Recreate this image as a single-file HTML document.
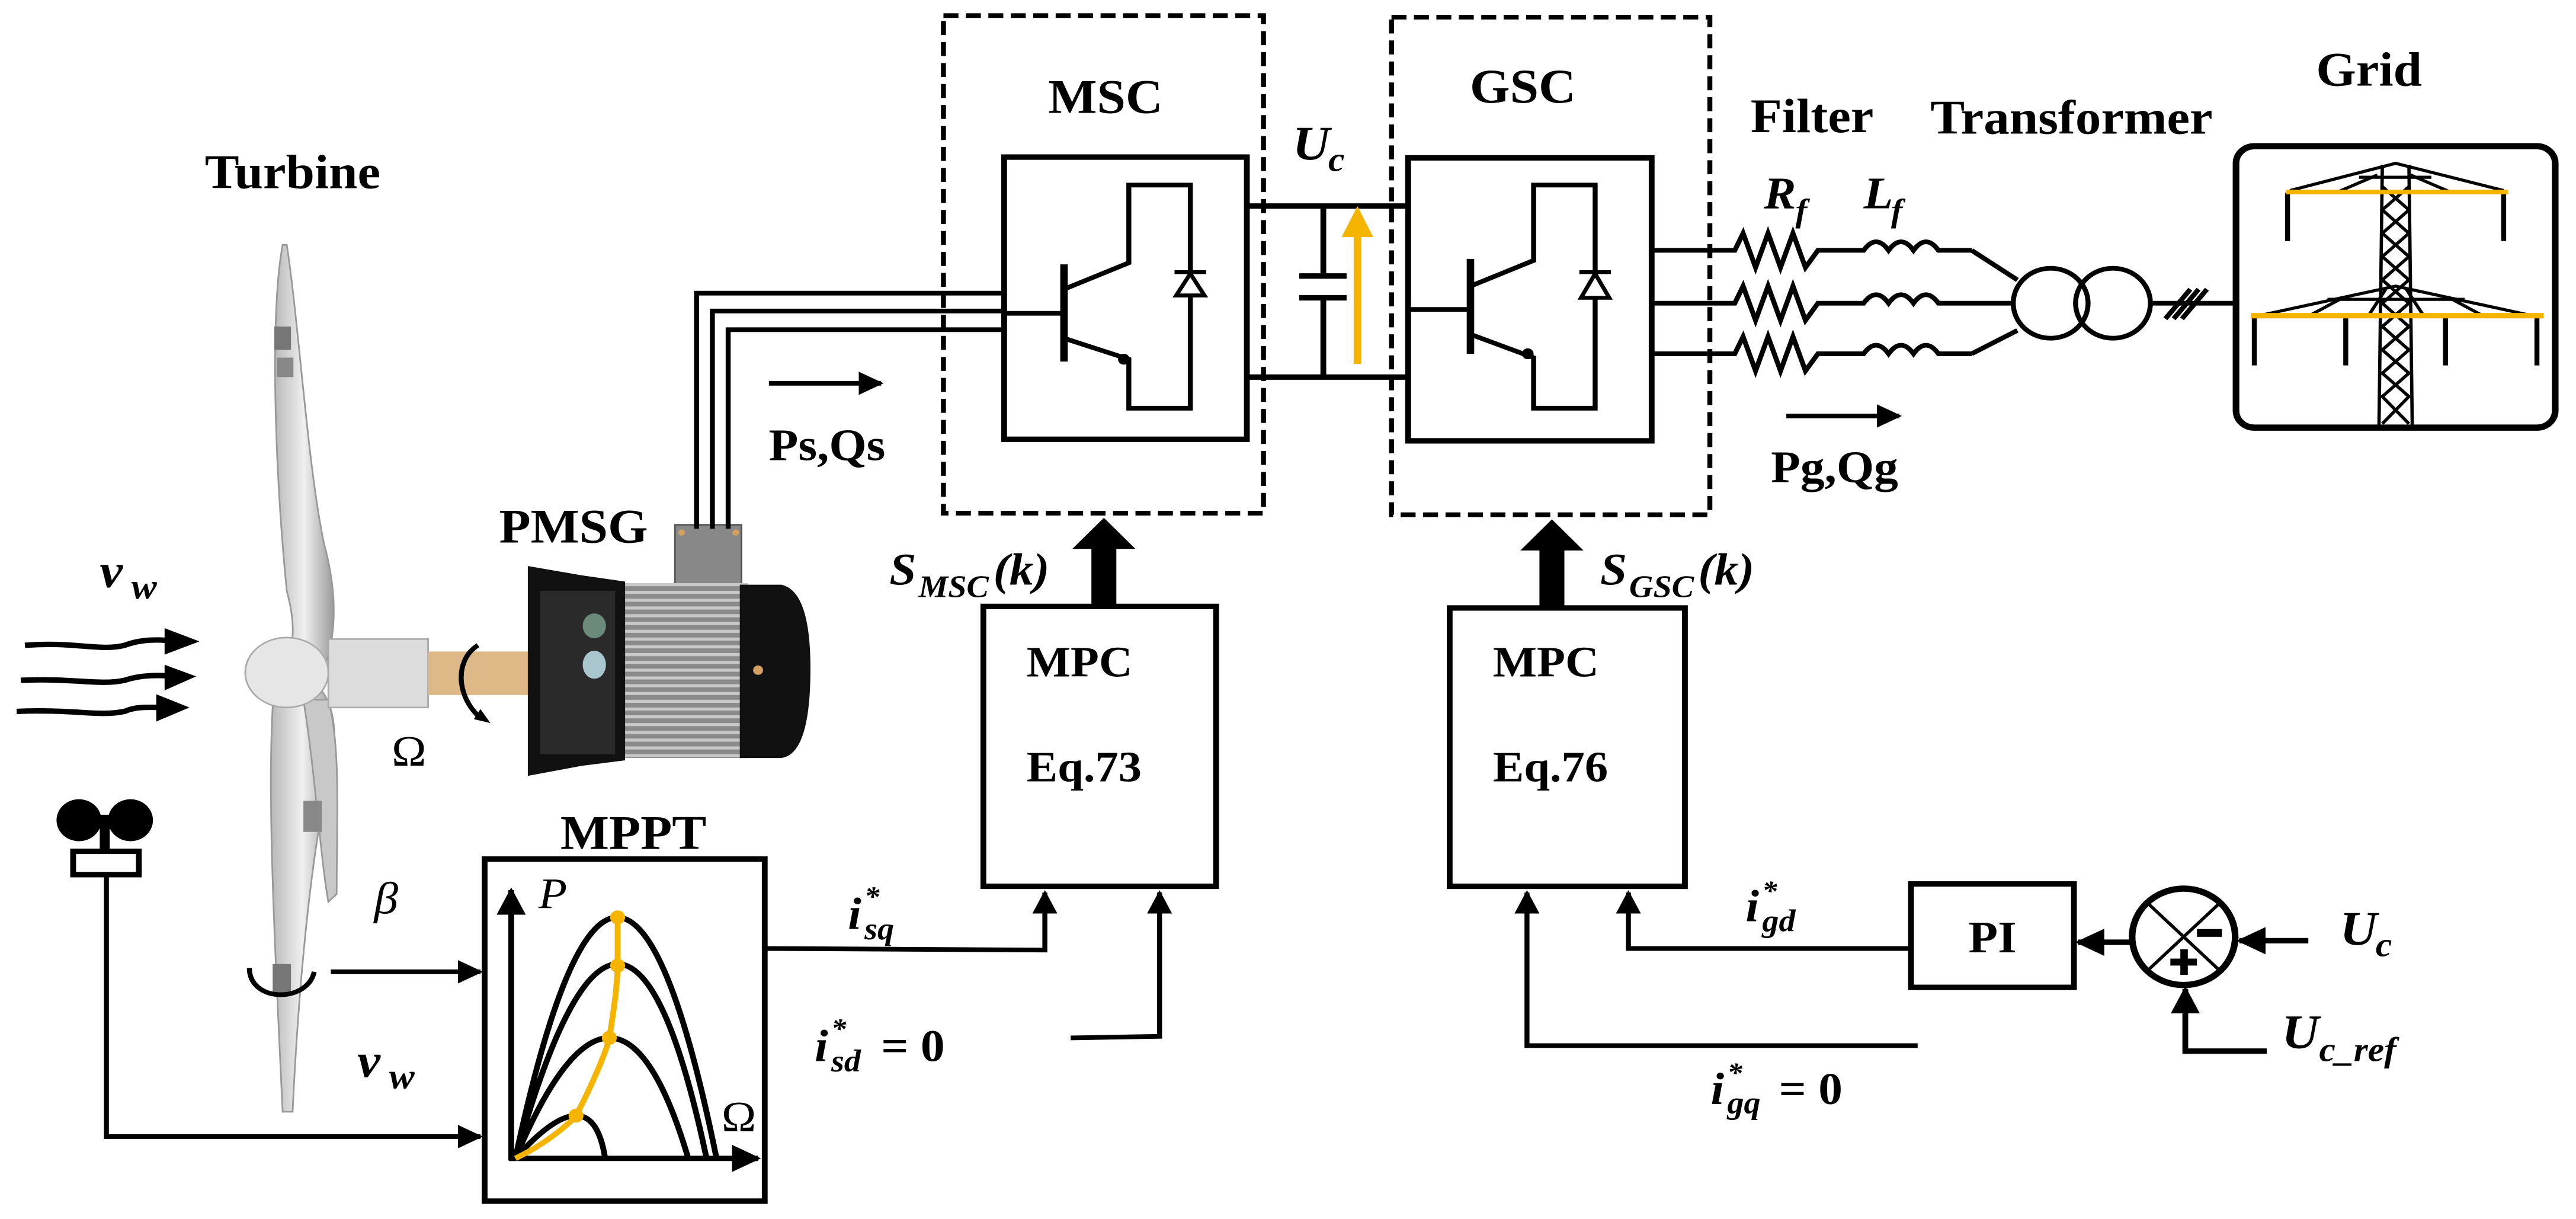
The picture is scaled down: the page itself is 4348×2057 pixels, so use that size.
<!DOCTYPE html>
<html><head><meta charset="utf-8"><style>
html,body{margin:0;padding:0;background:#fff;overflow:hidden}
svg{display:block}
text{font-family:"Liberation Serif",serif;font-weight:bold;fill:#000}
.i{font-style:italic}
</style></head><body>
<svg width="4348" height="2057" viewBox="0 0 3099 1466" xmlns="http://www.w3.org/2000/svg">
<defs>
<marker id="ah" viewBox="0 0 10 10" refX="9" refY="5" markerWidth="5" markerHeight="5" orient="auto-start-reverse"><path d="M0,0 L10,5 L0,10 z" fill="#000"/></marker>
<linearGradient id="blade" x1="0" x2="1"><stop offset="0" stop-color="#b8b8b8"/><stop offset="0.5" stop-color="#f0f0f0"/><stop offset="1" stop-color="#9a9a9a"/></linearGradient>
<pattern id="fins" width="10" height="10" patternUnits="userSpaceOnUse"><rect width="10" height="10" fill="#8a8a8a"/><rect width="10" height="4" fill="#c8c8c8"/></pattern>
</defs>
<g transform="scale(1,0.935)">
<text x="352" y="242" font-size="62" text-anchor="middle">Turbine</text>
<text x="1330" y="145" font-size="62" text-anchor="middle">MSC</text>
<text x="1832" y="132" font-size="62" text-anchor="middle">GSC</text>
<text x="2180" y="170" font-size="62" text-anchor="middle">Filter</text>
<text x="2492" y="172" font-size="62" text-anchor="middle">Transformer</text>
<text x="2850" y="110" font-size="62" text-anchor="middle">Grid</text>
<text x="690" y="698" font-size="62" text-anchor="middle">PMSG</text>
<text x="762" y="1092" font-size="62" text-anchor="middle">MPPT</text>

<g stroke="#999" stroke-width="2">
<path d="M340,315 C325,400 330,600 345,760 C360,820 350,850 330,860 L390,860 C410,800 400,740 390,700 C370,600 360,420 345,315 Z" fill="url(#blade)"/>
<path d="M330,880 C320,1000 330,1200 340,1430 L352,1430 C360,1250 375,1100 395,1000 C410,940 400,900 380,880 Z" fill="url(#blade)"/>
<path d="M365,900 C380,1000 385,1100 395,1160 L405,1150 C405,1050 410,960 395,900 Z" fill="#c8c8c8"/>
</g>
<rect x="330" y="420" width="20" height="30" fill="#777"/>
<rect x="333" y="460" width="20" height="25" fill="#888"/>
<rect x="328" y="1240" width="22" height="40" fill="#777"/>
<rect x="365" y="1030" width="22" height="40" fill="#888"/>
<ellipse cx="345" cy="865" rx="50" ry="45" fill="#e6e6e6" stroke="#aaa" stroke-width="2"/>
<rect x="395" y="822" width="120" height="88" fill="#dcdcdc" stroke="#aaa" stroke-width="2"/>
<rect x="515" y="838" width="125" height="56" fill="#deb887"/>
<path d="M575,830 C545,850 550,900 580,925" fill="none" stroke="#000" stroke-width="6"/>
<path d="M570,925 L590,930 L578,912 Z" fill="#000"/>
<path d="M300,1245 C300,1290 370,1290 378,1250" fill="none" stroke="#000" stroke-width="6"/>
<text x="492" y="985" font-size="56" text-anchor="middle" style="font-weight:normal">Ω</text>

<rect x="812" y="675" width="80" height="80" fill="#888" stroke="#555" stroke-width="2"/>
<circle cx="820" cy="685" r="4" fill="#d2a060"/><circle cx="885" cy="685" r="4" fill="#d2a060"/>
<rect x="750" y="750" width="150" height="225" fill="url(#fins)"/>
<path d="M890,752 L940,752 Q975,760 975,860 Q975,970 940,975 L890,975 Z" fill="#111"/>
<circle cx="912" cy="862" r="6" fill="#d2a060"/>
<path d="M635,728 L700,740 L752,748 L752,978 L700,985 L635,998 Z" fill="#111"/>
<rect x="650" y="760" width="90" height="210" fill="#2a2a2a"/>
<ellipse cx="715" cy="805" rx="14" ry="16" fill="#6c8a7c"/>
<ellipse cx="715" cy="855" rx="14" ry="18" fill="#a9c6cf"/>

<g fill="none" stroke="#000" stroke-width="7">
<path d="M30,830 C90,825 120,838 150,830 C170,822 190,822 215,825"/>
<path d="M25,875 C90,872 120,882 150,875 C170,868 190,868 215,870"/>
<path d="M20,915 C90,912 120,922 150,915 C165,908 180,910 205,910"/>
</g>
<path d="M198,808 L240,825 L198,842 Z M198,855 L236,870 L198,888 Z M188,893 L228,910 L188,928 Z" fill="#000"/>
<text x="120" y="755" font-size="62" class="i">v</text><text x="158" y="770" font-size="46" class="i">w</text>

<circle cx="95" cy="1055" r="27" fill="#000"/><circle cx="157" cy="1055" r="27" fill="#000"/>
<rect x="120" y="1048" width="12" height="45" fill="#000"/>
<rect x="88" y="1095" width="79" height="30" fill="#fff" stroke="#000" stroke-width="7"/>
<polyline points="128,1125 128,1462 578,1462" fill="none" stroke="#000" stroke-width="6" marker-end="url(#ah)"/>
<line x1="398" y1="1250" x2="578" y2="1250" stroke="#000" stroke-width="6" marker-end="url(#ah)"/>
<text x="450" y="1175" font-size="58" class="i" style="font-weight:normal">β</text>
<text x="430" y="1385" font-size="62" class="i">v</text><text x="468" y="1400" font-size="46" class="i">w</text>

<rect x="583" y="1105" width="337" height="440" fill="#fff" stroke="#000" stroke-width="7"/>
<line x1="615" y1="1492" x2="615" y2="1145" stroke="#000" stroke-width="7" marker-end="url(#ah)"/>
<line x1="612" y1="1490" x2="912" y2="1490" stroke="#000" stroke-width="7" marker-end="url(#ah)"/>
<text x="648" y="1168" font-size="56" class="i" style="font-weight:normal">P</text>
<text x="868" y="1455" font-size="56" style="font-weight:normal">Ω</text>
<g fill="none" stroke="#000" stroke-width="7">
<path d="M620,1490 Q744,870 862,1490"/>
<path d="M620,1490 Q751,990 850,1490"/>
<path d="M620,1490 Q742,1180 828,1490"/>
<path d="M620,1490 Q712,1380 728,1490"/>
</g>
<path d="M620,1490 C660,1470 690,1440 693,1435 C715,1390 730,1350 733,1335 C740,1290 743,1260 743,1240 L743,1180" fill="none" stroke="#f5b400" stroke-width="7"/>
<g fill="#f5b400"><circle cx="743" cy="1180" r="9"/><circle cx="743" cy="1242" r="9"/><circle cx="733" cy="1335" r="9"/><circle cx="693" cy="1435" r="9"/></g>

<g fill="none" stroke="#000" stroke-width="6">
<polyline points="838,680 838,377 1210,377"/>
<polyline points="857,680 857,400 1210,400"/>
<polyline points="876,680 876,424 1210,424"/>
</g>
<line x1="925" y1="493" x2="1060" y2="493" stroke="#000" stroke-width="6" marker-end="url(#ah)"/>
<text x="995" y="592" font-size="58" text-anchor="middle">Ps,Qs</text>

<rect x="1135" y="20" width="385" height="640" fill="none" stroke="#000" stroke-width="6" stroke-dasharray="18 9"/>
<rect x="1208" y="202" width="292" height="363" fill="#fff" stroke="#000" stroke-width="7"/>
<g fill="none" stroke="#000" stroke-width="6">
<line x1="1208" y1="403" x2="1280" y2="403"/>
<line x1="1280" y1="340" x2="1280" y2="465" stroke-width="9"/>
<polyline points="1280,372 1358,338 1358,238 1432,238 1432,525 1358,525 1358,462 1280,435"/>
</g>
<circle cx="1352" cy="462" r="7" fill="#000"/>
<path d="M1415,380 L1449,380 L1432,352 Z" fill="#fff" stroke="#000" stroke-width="5"/>
<line x1="1413" y1="350" x2="1451" y2="350" stroke="#000" stroke-width="5"/>
<rect x="1313" y="700" width="30" height="82" fill="#000"/>
<path d="M1290,706 L1328,666 L1366,706 Z" fill="#000"/>
<text x="1070" y="752" font-size="58" class="i">S</text><text x="1105" y="768" font-size="40" class="i">MSC</text><text x="1195" y="752" font-size="58" class="i">(k)</text>
<rect x="1183" y="780" width="280" height="360" fill="#fff" stroke="#000" stroke-width="7"/>
<text x="1235" y="870" font-size="56">MPC</text>
<text x="1235" y="1005" font-size="56">Eq.73</text>
<polyline points="920,1220 1257,1222 1257,1148" fill="none" stroke="#000" stroke-width="6" marker-end="url(#ah)"/>
<polyline points="1288,1335 1395,1333 1395,1148" fill="none" stroke="#000" stroke-width="6" marker-end="url(#ah)"/>
<text x="1020" y="1195" font-size="58" class="i">i</text><text x="1040" y="1165" font-size="36" class="i">*</text><text x="1040" y="1208" font-size="40" class="i">sq</text>
<text x="980" y="1365" font-size="58" class="i">i</text><text x="1000" y="1335" font-size="36" class="i">*</text><text x="1000" y="1378" font-size="40" class="i">sd</text><text x="1060" y="1365" font-size="58">= 0</text>

<g stroke="#000" stroke-width="7" fill="none">
<line x1="1500" y1="265" x2="1694" y2="265"/>
<line x1="1500" y1="485" x2="1694" y2="485"/>
<polyline points="1592,265 1592,355"/><polyline points="1592,383 1592,485"/>
<line x1="1563" y1="355" x2="1620" y2="355"/><line x1="1563" y1="383" x2="1620" y2="383"/>
</g>
<line x1="1633" y1="468" x2="1633" y2="300" stroke="#f5b400" stroke-width="9"/>
<path d="M1614,305 L1633,265 L1652,305 Z" fill="#f5b400"/>
<text x="1555" y="205" font-size="62" class="i">U</text><text x="1598" y="220" font-size="44" class="i">c</text>

<rect x="1674" y="22" width="383" height="640" fill="none" stroke="#000" stroke-width="6" stroke-dasharray="18 9"/>
<rect x="1694" y="203" width="293" height="364" fill="#fff" stroke="#000" stroke-width="7"/>
<g fill="none" stroke="#000" stroke-width="6">
<line x1="1694" y1="398" x2="1769" y2="398"/>
<line x1="1769" y1="333" x2="1769" y2="455" stroke-width="9"/>
<polyline points="1769,368 1845,335 1845,238 1919,238 1919,525 1845,525 1845,460 1769,430"/>
</g>
<circle cx="1838" cy="455" r="7" fill="#000"/>
<path d="M1902,383 L1936,383 L1919,352 Z" fill="#fff" stroke="#000" stroke-width="5"/>
<line x1="1900" y1="350" x2="1938" y2="350" stroke="#000" stroke-width="5"/>
<rect x="1852" y="702" width="30" height="80" fill="#000"/>
<path d="M1829,708 L1867,668 L1905,708 Z" fill="#000"/>
<text x="1925" y="752" font-size="58" class="i">S</text><text x="1960" y="768" font-size="40" class="i">GSC</text><text x="2043" y="752" font-size="58" class="i">(k)</text>
<rect x="1744" y="782" width="283" height="358" fill="#fff" stroke="#000" stroke-width="7"/>
<text x="1796" y="870" font-size="56">MPC</text>
<text x="1796" y="1005" font-size="56">Eq.76</text>

<g fill="none" stroke="#000" stroke-width="6">
<path d="M1987,322 L2087,322 L2097,300 L2112,344 L2127,300 L2142,344 L2157,300 L2172,344 L2187,322 L2242,322 Q2257,300 2272,322 Q2287,300 2302,322 Q2317,300 2332,322 L2372,322"/>
<path d="M1987,390 L2087,390 L2097,368 L2112,412 L2127,368 L2142,412 L2157,368 L2172,412 L2187,390 L2242,390 Q2257,368 2272,390 Q2287,368 2302,390 Q2317,368 2332,390 L2422,390"/>
<path d="M1987,455 L2087,455 L2097,433 L2112,477 L2127,433 L2142,477 L2157,433 L2172,477 L2187,455 L2242,455 Q2257,433 2272,455 Q2287,433 2302,455 Q2317,433 2332,455 L2372,455"/>
<polyline points="2372,322 2427,360"/><polyline points="2372,455 2427,425"/>
<circle cx="2467" cy="390" r="45"/><circle cx="2542" cy="390" r="45"/>
<line x1="2587" y1="390" x2="2690" y2="390"/>
<line x1="2605" y1="410" x2="2635" y2="372"/><line x1="2615" y1="410" x2="2645" y2="372"/><line x1="2625" y1="410" x2="2655" y2="372"/>
</g>
<text x="2122" y="268" font-size="58" class="i">R</text><text x="2160" y="285" font-size="42" class="i">f</text>
<text x="2242" y="268" font-size="58" class="i">L</text><text x="2275" y="285" font-size="42" class="i">f</text>
<line x1="2149" y1="535" x2="2285" y2="535" stroke="#000" stroke-width="6" marker-end="url(#ah)"/>
<text x="2207" y="620" font-size="58" text-anchor="middle">Pg,Qg</text>

<rect x="2690" y="188" width="384" height="362" rx="22" fill="#fff" stroke="#000" stroke-width="8"/>
<g stroke="#000" stroke-width="4" fill="none">
<path d="M2866,212 L2862,548 M2898,212 L2902,548"/>
<path d="M2866,240 L2898,270 L2866,300 L2898,330 L2866,360 L2898,390 L2866,420 L2898,450 L2866,480 L2898,510 L2866,545 M2898,240 L2866,270 L2898,300 L2866,330 L2898,360 L2866,390 L2898,420 L2866,450 L2898,480 L2866,510 L2898,545"/>
<path d="M2755,245 L2882,210 L3012,245 M2810,248 L2860,225 M2950,248 L2900,225 M2838,228 L2925,228"/>
<path d="M2722,405 L2882,368 L3042,405 M2780,405 L2820,382 M2985,405 L2945,382 M2800,385 L2965,385 M2850,405 L2870,372 M2915,405 L2895,372"/>
<path d="M2752,248 L2752,310 M3012,248 L3012,310 M2712,408 L2712,470 M2822,408 L2822,470 M2942,408 L2942,470 M3052,408 L3052,470" stroke-width="6"/>
</g>
<line x1="2750" y1="247" x2="3017" y2="247" stroke="#f5b400" stroke-width="6"/>
<line x1="2708" y1="406" x2="3060" y2="406" stroke="#f5b400" stroke-width="7"/>

<rect x="2299" y="1137" width="196" height="133" fill="#fff" stroke="#000" stroke-width="7"/>
<text x="2397" y="1225" font-size="58" text-anchor="middle">PI</text>
<polyline points="2299,1220 1959,1220 1959,1148" fill="none" stroke="#000" stroke-width="6" marker-end="url(#ah)"/>
<polyline points="2307,1345 1837,1345 1837,1148" fill="none" stroke="#000" stroke-width="6" marker-end="url(#ah)"/>
<text x="2100" y="1185" font-size="58" class="i">i</text><text x="2120" y="1158" font-size="36" class="i">*</text><text x="2120" y="1198" font-size="40" class="i">gd</text>
<text x="2058" y="1420" font-size="58" class="i">i</text><text x="2078" y="1392" font-size="36" class="i">*</text><text x="2078" y="1432" font-size="40" class="i">gq</text><text x="2140" y="1420" font-size="58">= 0</text>
<circle cx="2627" cy="1205" r="62" fill="#fff" stroke="#000" stroke-width="8"/>
<g stroke="#000" stroke-width="4"><line x1="2583" y1="1161" x2="2671" y2="1249"/><line x1="2671" y1="1161" x2="2583" y2="1249"/></g>
<rect x="2643" y="1195" width="30" height="10" fill="#000"/>
<rect x="2611" y="1233" width="32" height="9" fill="#000"/><rect x="2623" y="1221" width="9" height="33" fill="#000"/>
<line x1="2562" y1="1212" x2="2500" y2="1212" stroke="#000" stroke-width="7" marker-end="url(#ah)"/>
<line x1="2777" y1="1210" x2="2694" y2="1210" stroke="#000" stroke-width="7" marker-end="url(#ah)"/>
<polyline points="2727,1352 2629,1352 2629,1272" fill="none" stroke="#000" stroke-width="7" marker-end="url(#ah)"/>
<text x="2815" y="1215" font-size="62" class="i">U</text><text x="2858" y="1230" font-size="44" class="i">c</text>
<text x="2745" y="1348" font-size="62" class="i">U</text><text x="2790" y="1365" font-size="44" class="i">c_ref</text>
</g>
</svg>
</body></html>
